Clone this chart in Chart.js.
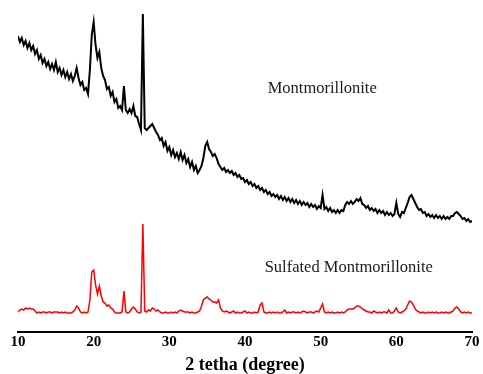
<!DOCTYPE html>
<html>
<head>
<meta charset="utf-8">
<script src="https://cdn.jsdelivr.net/npm/chart.js@4"></script>
<style>
  html, body { margin: 0; padding: 0; background: #fff; }
  #wrap { width: 483px; height: 374px; }
</style>
</head>
<body>
<div id="wrap"><canvas id="myChart" width="483" height="374"></canvas></div>
<script>
// 2 theta positions (degree), 0.25 step
const twoTheta = [
  10, 10.25, 10.5, 10.75, 11, 11.25, 11.5, 11.75, 12, 12.25, 12.5, 12.75,
  13, 13.25, 13.5, 13.75, 14, 14.25, 14.5, 14.75, 15, 15.25, 15.5, 15.75,
  16, 16.25, 16.5, 16.75, 17, 17.25, 17.5, 17.75, 18, 18.25, 18.5, 18.75,
  19, 19.25, 19.5, 19.75, 20, 20.25, 20.5, 20.75, 21, 21.25, 21.5, 21.75,
  22, 22.25, 22.5, 22.75, 23, 23.25, 23.5, 23.75, 24, 24.25, 24.5, 24.75,
  25, 25.25, 25.5, 25.75, 26, 26.25, 26.5, 26.75, 27, 27.25, 27.5, 27.75,
  28, 28.25, 28.5, 28.75, 29, 29.25, 29.5, 29.75, 30, 30.25, 30.5, 30.75,
  31, 31.25, 31.5, 31.75, 32, 32.25, 32.5, 32.75, 33, 33.25, 33.5, 33.75,
  34, 34.25, 34.5, 34.75, 35, 35.25, 35.5, 35.75, 36, 36.25, 36.5, 36.75,
  37, 37.25, 37.5, 37.75, 38, 38.25, 38.5, 38.75, 39, 39.25, 39.5, 39.75,
  40, 40.25, 40.5, 40.75, 41, 41.25, 41.5, 41.75, 42, 42.25, 42.5, 42.75,
  43, 43.25, 43.5, 43.75, 44, 44.25, 44.5, 44.75, 45, 45.25, 45.5, 45.75,
  46, 46.25, 46.5, 46.75, 47, 47.25, 47.5, 47.75, 48, 48.25, 48.5, 48.75,
  49, 49.25, 49.5, 49.75, 50, 50.25, 50.5, 50.75, 51, 51.25, 51.5, 51.75,
  52, 52.25, 52.5, 52.75, 53, 53.25, 53.5, 53.75, 54, 54.25, 54.5, 54.75,
  55, 55.25, 55.5, 55.75, 56, 56.25, 56.5, 56.75, 57, 57.25, 57.5, 57.75,
  58, 58.25, 58.5, 58.75, 59, 59.25, 59.5, 59.75, 60, 60.25, 60.5, 60.75,
  61, 61.25, 61.5, 61.75, 62, 62.25, 62.5, 62.75, 63, 63.25, 63.5, 63.75,
  64, 64.25, 64.5, 64.75, 65, 65.25, 65.5, 65.75, 66, 66.25, 66.5, 66.75,
  67, 67.25, 67.5, 67.75, 68, 68.25, 68.5, 68.75, 69, 69.25, 69.5, 69.75,
  70
];

// intensity (a.u.)
const montmorillonite = [
  296, 290, 294, 287, 291, 284, 289, 282, 286, 278, 282, 273,
  277, 269, 273, 266, 270, 263, 268, 262, 270, 260, 264, 257,
  262, 255, 260, 253, 258, 251, 256, 264, 254, 247, 250, 242,
  244, 238, 262, 297, 310, 287, 274, 280, 264, 256, 252, 243,
  245, 236, 240, 230, 233, 224, 226, 222, 246, 222, 219, 223,
  219, 226, 216, 215, 208, 202, 318, 204, 202, 204, 206, 208,
  204, 200, 197, 192, 194, 186, 190, 181, 185, 177, 182, 175,
  179, 173, 180, 172, 177, 169, 173, 165, 170, 162, 166, 159,
  162, 166, 174, 186, 190, 183, 180, 176, 178, 174, 168, 165,
  162, 164, 160, 162, 159, 161, 157, 159, 155, 157, 153, 154,
  150, 152, 148, 150, 146, 148, 144, 146, 142, 144, 140, 142,
  138, 140, 136, 138, 135, 137, 133, 136, 132, 135, 131, 134,
  130, 133, 129, 132, 128, 131, 127, 130, 127, 129, 125, 128,
  125, 127, 123, 126, 124, 137, 123, 125, 121, 124, 120, 122,
  119, 122, 119, 122, 121, 127, 130, 128, 131, 128, 130, 133,
  131, 134, 128, 127, 124, 126, 122, 124, 121, 123, 119, 122,
  119, 121, 117, 120, 117, 119, 116, 118, 129, 118, 115, 120,
  119, 124, 129, 135, 137, 133, 129, 125, 122, 123, 119, 120,
  116, 118, 115, 117, 114, 117, 114, 116, 113, 116, 113, 115,
  113, 116, 116, 119, 120, 118, 116, 113, 114, 111, 113, 110,
  111
];

const sulfatedMontmorillonite = [
  20, 22, 23, 22, 24, 23, 24, 23, 23, 21, 19, 20,
  19, 20, 20, 19, 20, 20, 19, 20, 20, 20, 19, 20,
  19, 20, 19, 19, 19, 20, 22, 26, 24, 20, 19, 20,
  19, 20, 32, 60, 62, 47, 38, 46, 36, 30, 29, 26,
  27, 24, 23, 20, 19, 19, 19, 20, 41, 20, 19, 20,
  23, 25, 23, 20, 19, 20, 108, 21, 20, 22, 21, 24,
  23, 21, 22, 20, 19, 19, 20, 19, 19, 20, 19, 20,
  19, 21, 22, 21, 20, 20, 20, 19, 20, 19, 19, 20,
  21, 26, 32, 34, 35, 33, 32, 30, 30, 29, 32, 24,
  21, 20, 21, 20, 19, 20, 21, 19, 20, 19, 19, 20,
  21, 19, 20, 19, 19, 20, 19, 20, 27, 29, 20, 19,
  19, 20, 19, 20, 19, 20, 19, 19, 20, 22, 19, 20,
  19, 20, 20, 19, 20, 19, 20, 21, 20, 19, 20, 20,
  19, 20, 21, 20, 24, 28, 20, 19, 20, 19, 20, 19,
  19, 20, 19, 20, 19, 20, 22, 23, 23, 23, 24, 26,
  26, 25, 23, 22, 21, 20, 20, 19, 21, 20, 19, 20,
  19, 20, 20, 19, 22, 19, 19, 21, 24, 20, 19, 20,
  21, 23, 27, 31, 30, 27, 23, 21, 20, 19, 20, 19,
  19, 20, 19, 20, 19, 20, 19, 19, 20, 19, 20, 19,
  19, 20, 21, 24, 25, 23, 20, 19, 20, 19, 20, 19,
  19
];

const xTicks = [10, 20, 30, 40, 50, 60, 70];

// curve names and where they sit (2 theta, intensity)
const curveLabels = ['Montmorillonite', 'Sulfated Montmorillonite'];
const labelTheta = [43.0, 42.6];
const labelIntensity = [243, 64];

function toPoints(ys) {
  return ys.map((y, i) => ({ x: twoTheta[i], y }));
}

const serif = '"Liberation Serif", "Times New Roman", serif';

const curveText = {
  id: 'curveText',
  afterDatasetsDraw(chart) {
    const { ctx, scales: { x, y } } = chart;
    ctx.save();
    ctx.fillStyle = '#1a1a1a';
    ctx.font = '16.5px ' + serif;
    ctx.textAlign = 'left';
    ctx.textBaseline = 'middle';
    curveLabels.forEach((txt, i) => {
      ctx.fillText(txt, x.getPixelForValue(labelTheta[i]), y.getPixelForValue(labelIntensity[i]));
    });
    ctx.restore();
  },
};

const ctx = document.getElementById('myChart').getContext('2d');
const chart = new Chart(ctx, {
  type: 'line',
  data: {
    datasets: [
      {
        label: curveLabels[0],
        data: toPoints(montmorillonite),
        borderColor: '#000000',
        borderWidth: 2,
        pointRadius: 0,
        tension: 0,
      },
      {
        label: curveLabels[1],
        data: toPoints(sulfatedMontmorillonite),
        borderColor: '#ff0000',
        borderWidth: 1.5,
        pointRadius: 0,
        tension: 0,
      },
    ],
  },
  options: {
    responsive: false,
    animation: false,
    events: [],
    layout: { padding: { left: 18, right: 11, top: 2, bottom: 0 } },
    plugins: { legend: { display: false }, tooltip: { enabled: false } },
    scales: {
      x: {
        type: 'linear',
        min: 10,
        max: 70,
        afterBuildTicks: (axis) => {
          axis.ticks = xTicks.map((v) => ({ value: v }));
        },
        grid: { display: false, drawTicks: false },
        border: { display: true, color: '#000000', width: 2 },
        ticks: {
          padding: 1,
          color: '#000000',
          font: { family: serif, size: 15, weight: 'bold' },
        },
        title: {
          display: true,
          text: '2 tetha (degree)',
          color: '#000000',
          padding: { top: 4, bottom: 0 },
          font: { family: serif, size: 18, weight: 'bold', lineHeight: 1 },
        },
      },
      y: {
        display: false,
        min: 0,
        max: 330,
      },
    },
  },
  plugins: [curveText],
});
</script>
</body>
</html>
